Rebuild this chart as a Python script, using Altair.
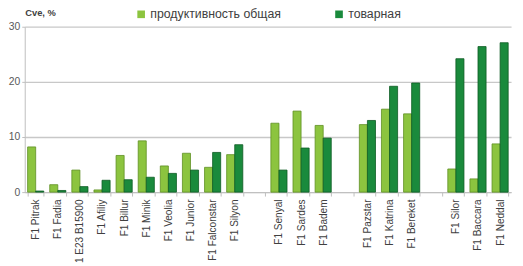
import altair as alt
import pandas as pd

categories = ["F1 Pitrak", "F1 Fadia", "1 E23 B15900", "F1 Afiliy", "F1 Billur", "F1 Minik",
              "F1 Veolia", "F1 Junior", "F1 Falconstar", "F1 Silyon", " ",
              "F1 Senyal", "F1 Sardes", "F1 Badem", "  ",
              "F1 Pazstar", "F1 Katrina", "F1 Bereket", "   ",
              "F1 Silor", "F1 Baccara", "F1 Neddal"]
total = [8.2, 1.35, 4.0, 0.4, 6.65, 9.3, 4.75, 7.05, 4.5, 6.8, None,
         12.5, 14.7, 12.1, None,
         12.25, 15.05, 14.2, None,
         4.2, 2.4, 8.75]
market = [0.2, 0.3, 1.0, 2.15, 2.25, 2.7, 3.4, 4.0, 7.2, 8.6, None,
          4.0, 8.0, 9.8, None,
          13.0, 19.2, 19.8, None,
          24.2, 26.4, 27.1]
series = ["продуктивность общая", "товарная"]
y_ticks = [0, 10, 20, 30]

rows = []
for c, a, b in zip(categories, total, market):
    if a is not None:
        rows.append({"cat": c, "series": series[0], "v": a})
        rows.append({"cat": c, "series": series[1], "v": b})
df = pd.DataFrame(rows)

FONT = "Liberation Sans"

chart = alt.Chart(df).mark_bar(strokeWidth=0.8).encode(
    x=alt.X("cat:N", sort=categories,
            scale=alt.Scale(domain=categories, paddingInner=0.27, paddingOuter=0.13),
            axis=alt.Axis(title=None, labelAngle=-90, labelFontSize=10.2, labelColor="#404040",
                          labelFont=FONT, domainColor="#BFBFBF", tickColor="#BFBFBF",
                          tickBand="extent", tickSize=4, labelPadding=3)),
    xOffset=alt.XOffset("series:N", sort=series, scale=alt.Scale(domain=series)),
    y=alt.Y("v:Q", scale=alt.Scale(domain=[0, 30], nice=False),
            axis=alt.Axis(title="Cve, %", titleAngle=0, titleX=0, titleY=-9, titleAlign="left",
                          titleFont=FONT, titleFontSize=9.5, titleFontWeight="bold", titleColor="#404040",
                          values=y_ticks, labelFontSize=10.5, labelColor="#595959", labelFont=FONT,
                          grid=True, gridColor="#C8C8C8", gridWidth=1.3,
                          domainColor="#BFBFBF", tickColor="#BFBFBF", tickSize=3, labelPadding=2)),
    color=alt.Color("series:N", sort=series,
                    scale=alt.Scale(domain=series, range=["#8CC43F", "#1A8A3C"]),
                    legend=alt.Legend(title=None, orient="none", direction="horizontal",
                                      legendX=112, legendY=-19, symbolType="square", symbolSize=60,
                                      symbolStrokeWidth=0, labelFont=FONT, labelFontSize=12.5,
                                      labelColor="#404040", columnPadding=52, labelOffset=3)),
    stroke=alt.Stroke("series:N", sort=series,
                      scale=alt.Scale(domain=series, range=["#5E8F22", "#0D5A22"]), legend=None),
).properties(
    width=494, height=168,
    padding={"left": 17, "top": 17, "right": 4, "bottom": 73},
    autosize=alt.AutoSizeParams(type="none"),
).configure_view(stroke=None)

chart.save("out.html", embed_options={"renderer": "svg", "actions": False})
